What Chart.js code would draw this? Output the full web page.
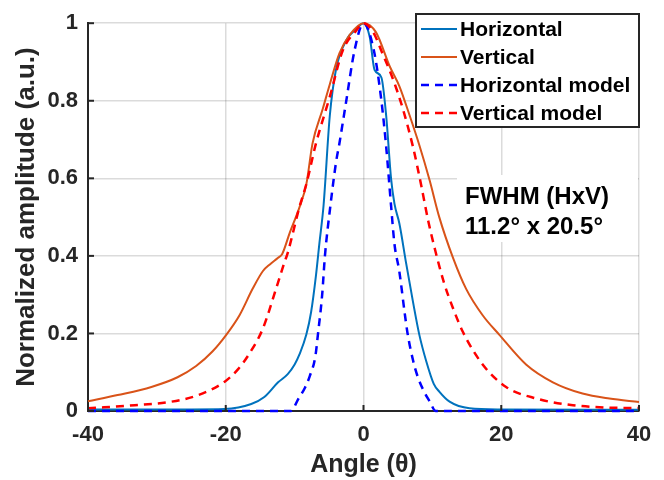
<!DOCTYPE html>
<html>
<head>
<meta charset="utf-8">
<script src="https://cdn.jsdelivr.net/npm/chart.js@4.4.1/dist/chart.umd.min.js"></script>
<style>
  html, body { margin: 0; padding: 0; background: #fff; }
  #wrap { width: 664px; height: 480px; }
</style>
</head>
<body>
<div id="wrap"><canvas id="beamChart" width="664" height="480"></canvas></div>
<script>
// angles (deg) and normalized amplitudes
const horizAngles = [-40, -25, -20.2, -16.3, -14.4, -12.4, -11, -10, -9.3, -8.3, -7.6, -6.9, -6.4, -5.8, -4.9, -4.0, -2.5, -1.0, 0, 0.9, 1.6, 2.6, 3.3, 4.0, 4.5, 5.2, 6.2, 7.2, 8.1, 9.1, 10.2, 11, 12.5, 15.4, 20, 40];
const horizValues = [0.004, 0.004, 0.005, 0.018, 0.036, 0.074, 0.095, 0.12, 0.146, 0.197, 0.256, 0.35, 0.433, 0.53, 0.76, 0.88, 0.956, 0.986, 1, 0.965, 0.88, 0.86, 0.76, 0.60, 0.534, 0.484, 0.38, 0.28, 0.197, 0.129, 0.07, 0.05, 0.024, 0.007, 0.004, 0.003];

const vertAngles = [-40, -35.7, -30.8, -27, -24.3, -21.9, -19.9, -18, -16.1, -14.6, -13.6, -12.4, -11.8, -10.7, -9.3, -8.3, -7.4, -5.9, -4.9, -3.5, -2.0, 0, 1.8, 3.8, 5.2, 6.7, 8.1, 9.6, 11, 13, 14.9, 17.3, 19.7, 23.6, 27.5, 31.8, 35.7, 40];
const vertValues = [0.025, 0.041, 0.062, 0.087, 0.116, 0.154, 0.197, 0.247, 0.315, 0.361, 0.378, 0.395, 0.405, 0.46, 0.525, 0.585, 0.69, 0.78, 0.842, 0.922, 0.97, 1, 0.977, 0.889, 0.838, 0.762, 0.686, 0.595, 0.50, 0.395, 0.315, 0.247, 0.197, 0.12, 0.074, 0.045, 0.032, 0.023];

const horizModelAngles = [-40, -10.5, -9.5, -8.5, -7.8, -7.0, -6.6, -6.0, -5.6, -4.8, -4.0, -3.5, -2.5, -1.3, 0, 1.5, 2.6, 3.3, 4.0, 4.5, 5.2, 6.0, 6.4, 7.2, 7.9, 8.8, 9.6, 10.5, 40];
const horizModelValues = [0, 0, 0.03, 0.06, 0.09, 0.14, 0.20, 0.30, 0.40, 0.53, 0.64, 0.69, 0.80, 0.93, 1, 0.93, 0.80, 0.68, 0.53, 0.43, 0.36, 0.25, 0.20, 0.13, 0.087, 0.05, 0.025, 0, 0];

const vertModelAngles = [-40, -33.2, -27.9, -24, -20.2, -18.2, -16.5, -14.6, -12.7, -11.5, -11, -9.3, -8.3, -6.9, -4.9, -3.0, -1.1, 0, 1.4, 2.8, 4.3, 5.7, 7.2, 8.4, 9.4, 10.4, 11.7, 13, 14.4, 17.3, 20.7, 25.1, 30.4, 38.6, 40];
const vertModelValues = [0.007, 0.015, 0.024, 0.041, 0.075, 0.108, 0.15, 0.213, 0.315, 0.382, 0.408, 0.526, 0.585, 0.69, 0.81, 0.93, 0.98, 1, 0.977, 0.92, 0.855, 0.78, 0.68, 0.58, 0.49, 0.415, 0.33, 0.265, 0.205, 0.12, 0.062, 0.032, 0.015, 0.008, 0.008];

const xTicks = [-40, -20, 0, 20, 40];
const yTicks = [0, 0.2, 0.4, 0.6, 0.8, 1];
const fwhmLines = ['FWHM (HxV)', '11.2\u00b0 x 20.5\u00b0'];

const toPoints = (xs, ys) => xs.map((x, i) => ({ x: x, y: ys[i] }));

const FONT = '"Liberation Sans", Arial, sans-serif';
const INK = '#262626';

// inward tick marks, legend box and FWHM note
const decorations = {
    id: 'decorations',
    afterDraw(chart) {
        const ctx = chart.ctx;
        const xs = chart.scales.x, ys = chart.scales.y;
        const area = chart.chartArea;

        ctx.save();
        ctx.strokeStyle = INK;
        ctx.lineWidth = 2;
        xTicks.forEach(v => {
            const px = xs.getPixelForValue(v);
            ctx.beginPath();
            ctx.moveTo(px, area.bottom);
            ctx.lineTo(px, area.bottom - 6);
            ctx.stroke();
        });
        yTicks.forEach(v => {
            const py = ys.getPixelForValue(v);
            ctx.beginPath();
            ctx.moveTo(area.left, py);
            ctx.lineTo(area.left + 6, py);
            ctx.stroke();
        });

        // FWHM note with white backing
        ctx.fillStyle = '#fff';
        ctx.fillRect(457, 175, 181, 67);
        ctx.fillStyle = '#000';
        ctx.font = 'bold 24px ' + FONT;
        ctx.textBaseline = 'alphabetic';
        ctx.textAlign = 'left';
        ctx.fillText(fwhmLines[0], 465, 204);
        ctx.fillText(fwhmLines[1], 465, 234);

        // legend
        const box = { left: 416, top: 14, width: 223, height: 113 };
        ctx.fillStyle = '#fff';
        ctx.fillRect(box.left, box.top, box.width, box.height);
        ctx.strokeStyle = INK;
        ctx.lineWidth = 2;
        ctx.strokeRect(box.left, box.top, box.width, box.height);

        ctx.font = 'bold 21px ' + FONT;
        ctx.textBaseline = 'middle';
        chart.data.datasets.forEach((ds, i) => {
            const y = 29 + i * 28;
            ctx.strokeStyle = ds.borderColor;
            ctx.lineWidth = ds.borderWidth;
            ctx.setLineDash(ds.borderDash || []);
            ctx.beginPath();
            ctx.moveTo(421, y);
            ctx.lineTo(457, y);
            ctx.stroke();
            ctx.setLineDash([]);
            ctx.fillStyle = '#000';
            ctx.fillText(ds.label, 460, y + 1);
        });
        ctx.restore();
    }
};

const ctx = document.getElementById('beamChart').getContext('2d');
const beamChart = new Chart(ctx, {
    type: 'line',
    data: {
        datasets: [
            {
                label: 'Horizontal',
                data: toPoints(horizAngles, horizValues),
                borderColor: '#0072BD',
                borderWidth: 2,
                order: 4
            },
            {
                label: 'Vertical',
                data: toPoints(vertAngles, vertValues),
                borderColor: '#D95319',
                borderWidth: 2,
                order: 3
            },
            {
                label: 'Horizontal model',
                data: toPoints(horizModelAngles, horizModelValues),
                borderColor: '#0000FF',
                borderWidth: 2.5,
                borderDash: [8, 6],
                order: 2
            },
            {
                label: 'Vertical model',
                data: toPoints(vertModelAngles, vertModelValues),
                borderColor: '#FF0000',
                borderWidth: 2.5,
                borderDash: [8, 6],
                order: 1
            }
        ]
    },
    options: {
        responsive: false,
        animation: false,
        layout: { padding: { left: 0, right: 25, top: 16, bottom: 0 } },
        elements: {
            point: { radius: 0 },
            line: { cubicInterpolationMode: 'monotone', fill: false }
        },
        datasets: { line: { clip: 4 } },
        plugins: {
            legend: { display: false },
            tooltip: { enabled: false }
        },
        scales: {
            x: {
                type: 'linear',
                min: -40,
                max: 40,
                afterBuildTicks: scale => { scale.ticks = xTicks.map(v => ({ value: v })); },
                afterFit: scale => { scale.height = 69; },
                ticks: {
                    color: INK,
                    padding: 11,
                    maxRotation: 0,
                    font: { family: FONT, size: 22, weight: 'bold' }
                },
                grid: { color: 'rgba(0,0,0,0.14)', lineWidth: 1.5, drawTicks: false },
                border: { color: INK, width: 2 },
                title: {
                    display: true,
                    text: 'Angle (\u03b8)',
                    color: INK,
                    padding: { top: 0, bottom: 0 },
                    font: { family: FONT, size: 25, weight: 'bold' }
                }
            },
            y: {
                min: 0,
                max: 1,
                afterBuildTicks: scale => { scale.ticks = yTicks.map(v => ({ value: v })); },
                afterFit: scale => { scale.width = 88; },
                ticks: {
                    color: INK,
                    padding: 10,
                    font: { family: FONT, size: 22, weight: 'bold' },
                    callback: v => String(v)
                },
                grid: { color: 'rgba(0,0,0,0.14)', lineWidth: 1.5, drawTicks: false },
                border: { color: INK, width: 2 },
                title: {
                    display: true,
                    text: 'Normalized amplitude (a.u.)',
                    color: INK,
                    padding: { top: 11, bottom: 0 },
                    font: { family: FONT, size: 26, weight: 'bold' }
                }
            }
        }
    },
    plugins: [decorations]
});
</script>
</body>
</html>
